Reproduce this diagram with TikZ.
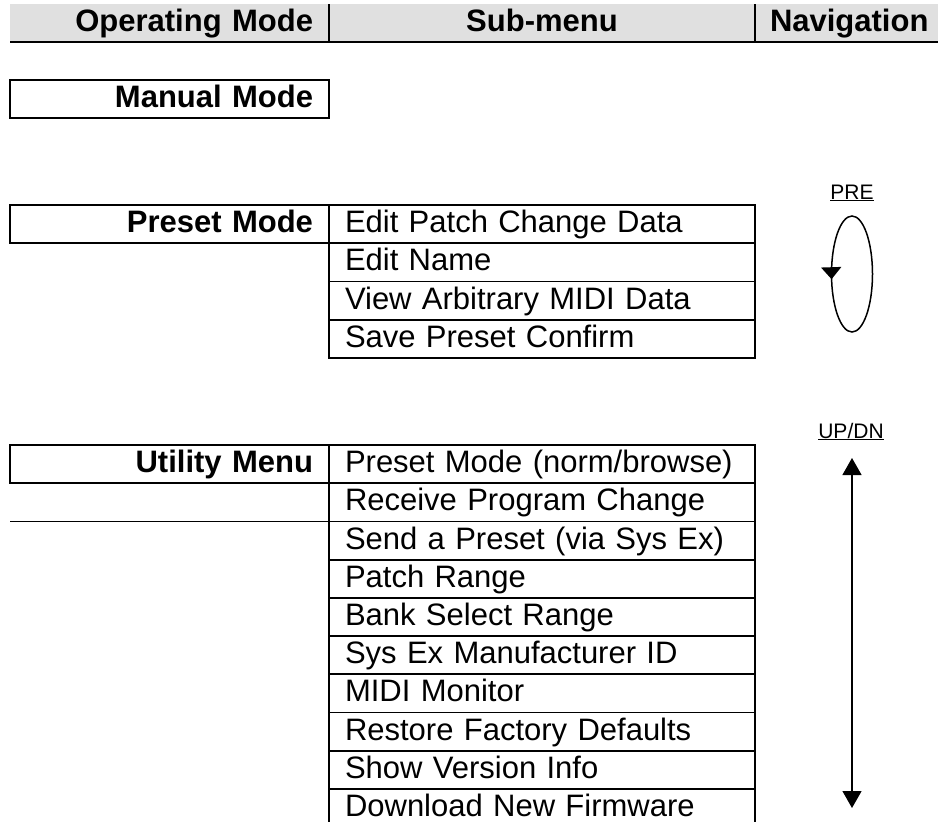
\documentclass[tikz,border=0pt]{standalone}
\usepackage{fontspec}
\setmainfont{Liberation Sans}
\usetikzlibrary{positioning,arrows.meta,decorations.markings}
\definecolor{headgray}{RGB}{224,224,224}
\tikzset{
	rowcell/.style={anchor=north west, outer sep=0pt, minimum height=38.2pt, inner ysep=0pt, inner xsep=16pt, text height=23pt, text depth=6pt, font=\fontsize{31}{31}\selectfont},
	modecell/.style={rowcell, draw, line width=1.8pt, text width=287pt, align=right, font=\fontsize{31}{31}\selectfont\bfseries},
	subcell/.style={rowcell, draw, line width=1.8pt, text width=394pt, align=left},
	headcell/.style={rowcell, fill=headgray, minimum height=38pt, font=\fontsize{31}{31}\selectfont\bfseries},
	navlabel/.style={anchor=base, inner sep=0pt, font=\fontsize{21}{21}\selectfont}
}

\begin{document}
\begin{tikzpicture}[x=1pt, y=-1pt]
		%%%%% START %%%%%
		\useasboundingbox (0,0) rectangle (938,822);
		
		\node[headcell, text width=287pt, align=right] (hmode) at (10,4) {Operating Mode};
		\node[headcell, text width=394pt, align=center, right=0pt of hmode] (hsub) {Sub-menu};
		\node[headcell, inner xsep=15pt, text width=153pt, align=left, right=0pt of hsub] (hnav) {Navigation};
		\draw[line width=1.9pt] (hmode.south west) -- (hnav.south east);
		\draw[line width=1.3pt] (hmode.north east) -- (hmode.south east);
		\draw[line width=1.3pt] (hsub.north east) -- (hsub.south east);
		
		\node[modecell] (manual) at (10,80) {Manual Mode};
		
		\node[modecell] (preset) at (10,205) {Preset Mode};
		\node[subcell, right=0pt of preset] (p1) {Edit Patch Change Data};
		\node[subcell, below=0pt of p1] (p2) {Edit Name};
		\node[subcell, below=0pt of p2] (p3) {View Arbitrary MIDI Data};
		\node[subcell, below=0pt of p3] (p4) {Save Preset Confirm};
		
		\node[navlabel] (pre) at (852,199) {\underline{\smash{PRE}}};
		\coordinate (loopc) at (852,274);
		\draw[line width=1.5pt, postaction={decorate}, decoration={markings, mark=at position 0.52 with {\arrow{Triangle[width=20pt,length=12pt]}}}] (loopc) ellipse [x radius=20.5pt, y radius=58pt];
		
		\node[modecell] (utility) at (10,445) {Utility Menu};
		\node[subcell, right=0pt of utility] (u1) {Preset Mode (norm/browse)};
		\node[subcell, below=0pt of u1] (u2) {Receive Program Change};
		\node[subcell, below=0pt of u2] (u3) {Send a Preset (via Sys Ex)};
		\node[subcell, below=0pt of u3] (u4) {Patch Range};
		\node[subcell, below=0pt of u4] (u5) {Bank Select Range};
		\node[subcell, below=0pt of u5] (u6) {Sys Ex Manufacturer ID};
		\node[subcell, below=0pt of u6] (u7) {MIDI Monitor};
		\node[subcell, below=0pt of u7] (u8) {Restore Factory Defaults};
		\node[subcell, below=0pt of u8] (u9) {Show Version Info};
		\node[subcell, below=0pt of u9] (u10) {Download New Firmware};
		\draw[line width=1.8pt] (utility.west |- u2.south) -- (u2.south west);
		
		\node[navlabel] (updn) at (851,438) {\underline{\smash{UP/DN}}};
		\coordinate (udtop) at (852,458);
		\coordinate (udbot) at (852,808);
		\draw[line width=1.3pt, {Triangle[width=19pt,length=17pt]}-{Triangle[width=19pt,length=17pt]}] (udtop) -- (udbot);
		%%%%% END %%%%%
\end{tikzpicture}
\end{document}
